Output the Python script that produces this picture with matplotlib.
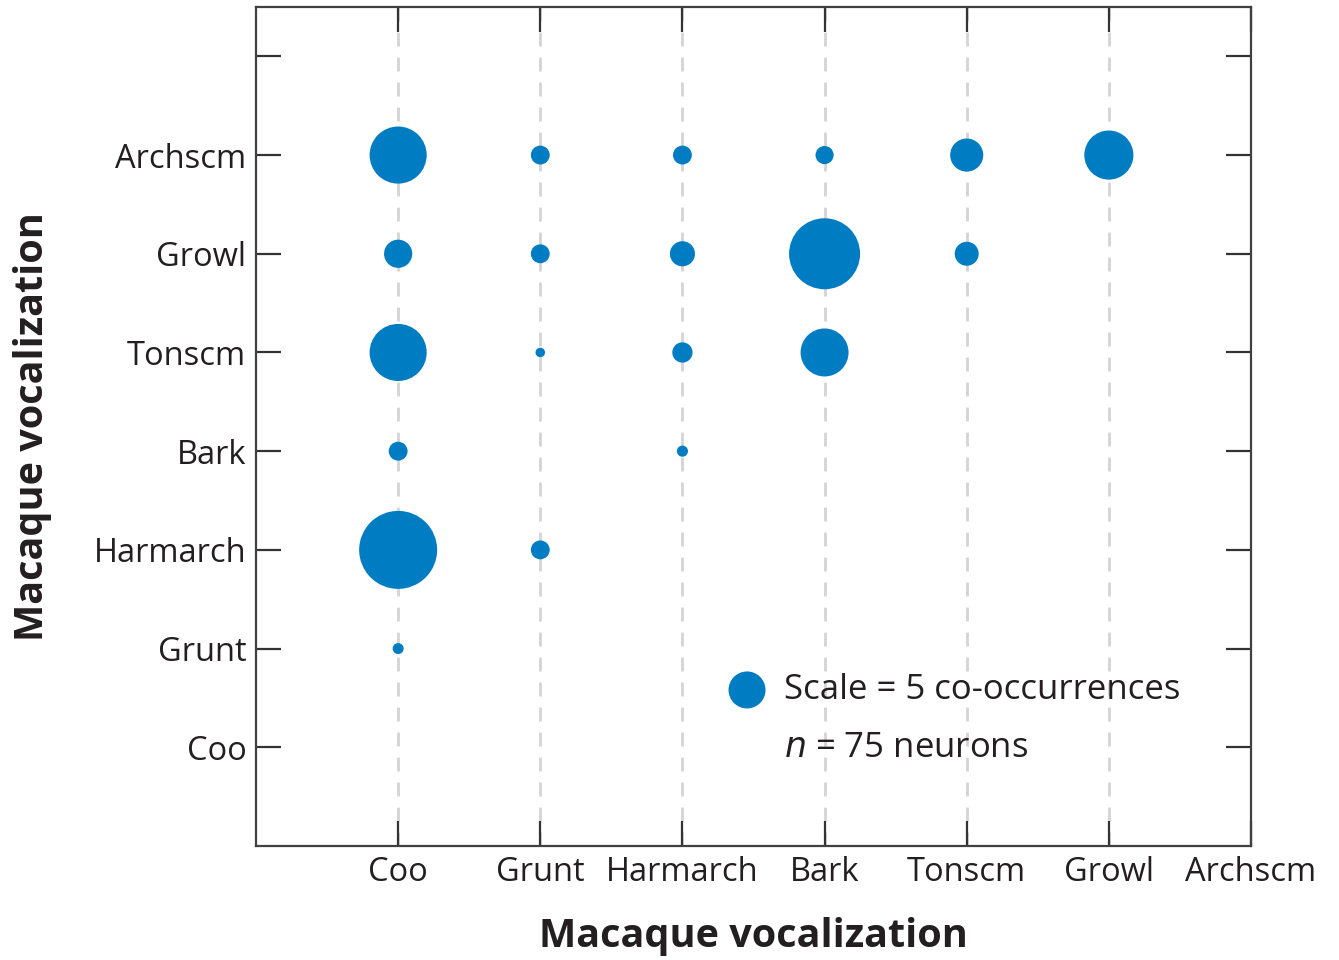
import matplotlib.pyplot as plt

plt.rcParams['font.family'] = ['Open Sans', 'DejaVu Sans']

calls = ['Coo', 'Grunt', 'Harmarch', 'Bark', 'Tonscm', 'Growl', 'Archscm']

# co-occurrence pairs (x call, y call, count)
x_call = ['Coo', 'Grunt', 'Harmarch', 'Bark', 'Tonscm', 'Growl',
          'Coo', 'Grunt', 'Harmarch', 'Bark', 'Tonscm',
          'Coo', 'Grunt', 'Harmarch', 'Bark',
          'Coo', 'Harmarch',
          'Coo', 'Grunt',
          'Coo']
y_call = ['Archscm'] * 6 + ['Growl'] * 5 + ['Tonscm'] * 4 + ['Bark'] * 2 + ['Harmarch'] * 2 + ['Grunt']
counts = [11.9, 1.3, 1.3, 1.2, 4.0, 8.8,
          2.9, 1.3, 2.3, 18.4, 2.1,
          11.9, 0.33, 1.5, 8.4,
          1.3, 0.45,
          22.2, 1.3,
          0.44]
scale_count = 5
n_neurons = 75

blue = '#007cc3'
ink = '#231f20'
size_per_count = 142  # pt^2 per co-occurrence

fig = plt.figure(figsize=(13.39, 9.6), dpi=100)
ax = fig.add_axes([256 / 1339, 114 / 960, 995 / 1339, 839 / 960])

xs = [calls.index(c) + 1 for c in x_call]
ys = [calls.index(c) + 1 for c in y_call]
ax.scatter(xs, ys, s=[c * size_per_count for c in counts], color=blue,
           edgecolors='none', zorder=3)

for i in range(1, 7):
    ax.axvline(i, color='#d4d4d4', lw=2, ls=(0, (5, 4)), zorder=1)

ax.set_xlim(0, 7)
ax.set_ylim(0, 8.5)
ax.set_xticks(range(1, 8))
ax.set_xticklabels(calls)
ax.set_yticks(range(1, 9))
ax.set_yticklabels(calls + [''])
ax.tick_params(direction='in', length=18, width=1.6, color='#333333',
               labelsize=23.5, labelcolor=ink, top=True, right=True, pad=7)
for sp in ax.spines.values():
    sp.set_linewidth(1.6)
    sp.set_color('#404040')

ax.set_xlabel('Macaque vocalization', fontsize=28.5, fontweight='bold', color=ink, labelpad=20)
ax.set_ylabel('Macaque vocalization', fontsize=28.5, fontweight='bold', color=ink, labelpad=30)

# scale key
ax.scatter([0.4935], [0.186], s=scale_count * size_per_count, color=blue,
           edgecolors='none', transform=ax.transAxes, clip_on=False, zorder=3)
ax.text(0.5307, 0.186, f'Scale = {scale_count} co-occurrences', transform=ax.transAxes,
        fontsize=25, color=ink, va='center', ha='left')
ax.text(0.5307, 0.117, f'$n$ = {n_neurons} neurons', transform=ax.transAxes,
        fontsize=25, color=ink, va='center', ha='left')

fig.savefig('out.png', dpi=100)
